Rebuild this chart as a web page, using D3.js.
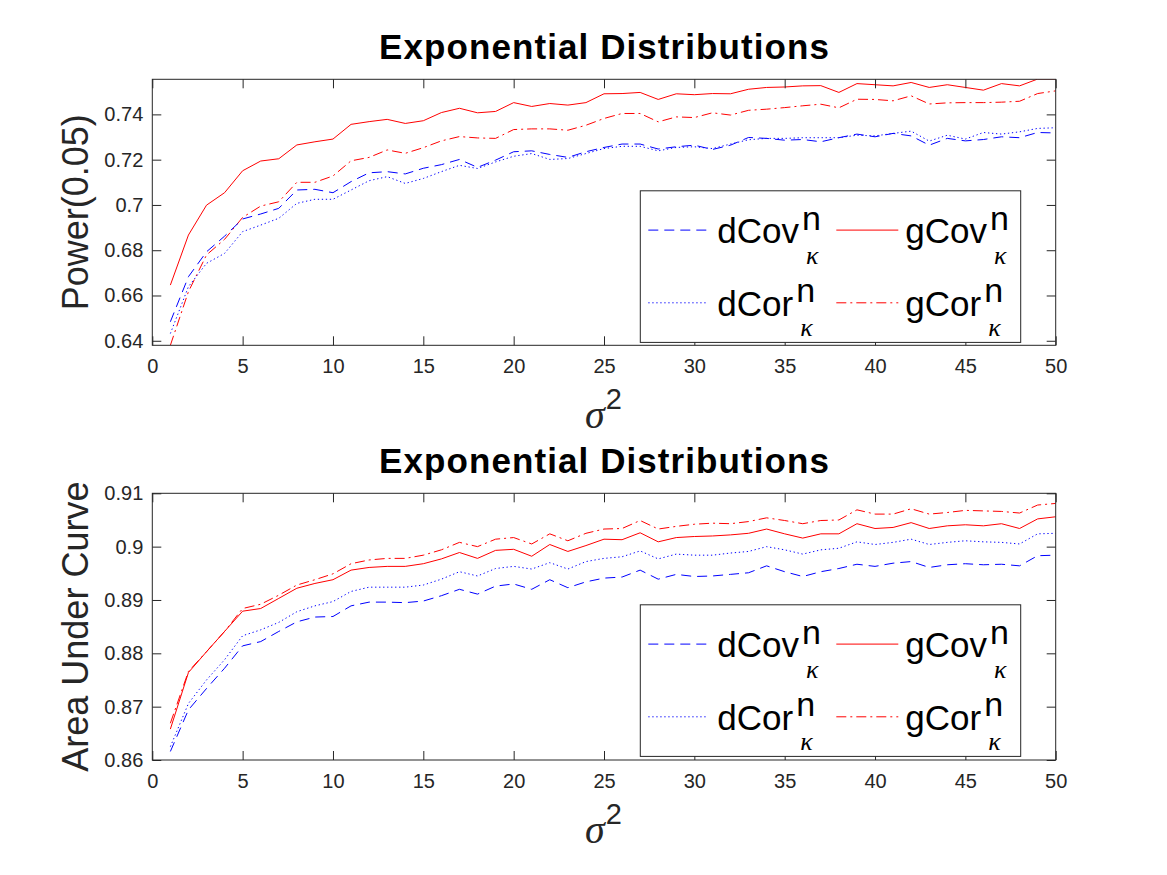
<!DOCTYPE html>
<html>
<head>
<meta charset="utf-8">
<script src="https://cdn.jsdelivr.net/npm/d3@7"></script>
<style>
  html, body { margin: 0; padding: 0; background: #ffffff; }
  svg { display: block; }
</style>
</head>
<body>
<script>
// ---------------- data ----------------
const sigma2 = [1,2,3,4,5,6,7,8,9,10,11,12,13,14,15,16,17,18,19,20,21,22,23,24,25,26,27,28,29,30,31,32,33,34,35,36,37,38,39,40,41,42,43,44,45,46,47,48,49,50];

const xTicks = [0,5,10,15,20,25,30,35,40,45,50];
const xTickLabels = ["0","5","10","15","20","25","30","35","40","45","50"];

const seriesNames = ["dCov","dCor","gCov","gCor"];

// Panel 1: Power(0.05)
const powerYDomain = [0.638, 0.7555];
const powerTicks = [0.64,0.66,0.68,0.70,0.72,0.74];
const powerTickLabels = ["0.64","0.66","0.68","0.7","0.72","0.74"];
const dCovPower = [0.6484,0.6683,0.6793,0.6862,0.6938,0.6960,0.6985,0.7066,0.7069,0.7054,0.7103,0.7142,0.7147,0.7137,0.7162,0.7178,0.7201,0.7166,0.7198,0.7235,0.7239,0.7223,0.7210,0.7235,0.7254,0.7269,0.7269,0.7247,0.7257,0.7264,0.7245,0.7264,0.7298,0.7294,0.7286,0.7289,0.7279,0.7297,0.7313,0.7301,0.7316,0.7305,0.7264,0.7294,0.7283,0.7289,0.7301,0.7297,0.7320,0.7318];
const dCorPower = [0.6432,0.6639,0.6742,0.6786,0.6882,0.6911,0.6941,0.7007,0.7025,0.7025,0.7066,0.7107,0.7125,0.7095,0.7117,0.7147,0.7175,0.7161,0.7190,0.7215,0.7227,0.7201,0.7205,0.7227,0.7249,0.7259,0.7259,0.7239,0.7254,0.7257,0.7249,0.7269,0.7288,0.7294,0.7294,0.7297,0.7297,0.7297,0.7308,0.7305,0.7316,0.7326,0.7282,0.7308,0.7291,0.7320,0.7313,0.7323,0.7338,0.7341];
const gCovPower = [0.6646,0.6867,0.6999,0.7054,0.7151,0.7194,0.7204,0.7265,0.7279,0.7291,0.7356,0.7368,0.7378,0.7360,0.7372,0.7408,0.7427,0.7407,0.7413,0.7452,0.7435,0.7448,0.7441,0.7452,0.7491,0.7492,0.7497,0.7466,0.7491,0.7487,0.7492,0.7491,0.7511,0.7519,0.7521,0.7526,0.7527,0.7497,0.7536,0.7531,0.7526,0.7541,0.7519,0.7531,0.7519,0.7507,0.7536,0.7526,0.7556,0.7556];
const gCorPower = [0.6380,0.6617,0.6779,0.6848,0.6945,0.6995,0.7014,0.7100,0.7100,0.7128,0.7195,0.7210,0.7243,0.7228,0.7253,0.7283,0.7302,0.7296,0.7294,0.7333,0.7336,0.7336,0.7330,0.7352,0.7382,0.7404,0.7404,0.7367,0.7389,0.7386,0.7407,0.7397,0.7418,0.7423,0.7430,0.7438,0.7445,0.7429,0.7467,0.7466,0.7460,0.7482,0.7446,0.7451,0.7452,0.7452,0.7454,0.7458,0.7492,0.7504];

// Panel 2: Area Under Curve
const aucYDomain = [0.86, 0.91];
const aucTicks = [0.86,0.87,0.88,0.89,0.90,0.91];
const aucTickLabels = ["0.86","0.87","0.88","0.89","0.9","0.91"];
const dCovAuc = [0.8616,0.8694,0.8734,0.8772,0.8814,0.8822,0.8841,0.8859,0.8868,0.8869,0.8889,0.8896,0.8896,0.8895,0.8898,0.8908,0.8920,0.8911,0.8926,0.8930,0.8920,0.8938,0.8923,0.8934,0.8941,0.8943,0.8956,0.8939,0.8948,0.8944,0.8945,0.8948,0.8951,0.8964,0.8953,0.8944,0.8953,0.8959,0.8967,0.8963,0.8969,0.8972,0.8961,0.8966,0.8968,0.8966,0.8967,0.8964,0.8983,0.8984];
const dCorAuc = [0.8625,0.8706,0.8750,0.8788,0.8833,0.8844,0.8858,0.8878,0.8889,0.8897,0.8916,0.8924,0.8924,0.8924,0.8928,0.8939,0.8953,0.8945,0.8959,0.8963,0.8958,0.8970,0.8958,0.8972,0.8978,0.8981,0.8992,0.8977,0.8986,0.8984,0.8984,0.8988,0.8991,0.9000,0.8994,0.8986,0.8994,0.8997,0.9009,0.9004,0.9008,0.9014,0.9004,0.9008,0.9011,0.9009,0.9008,0.9005,0.9024,0.9025];
const gCovAuc = [0.8658,0.8764,0.8803,0.8841,0.8879,0.8884,0.8903,0.8922,0.8931,0.8938,0.8956,0.8961,0.8963,0.8963,0.8968,0.8977,0.8989,0.8978,0.8993,0.8995,0.8982,0.9004,0.8991,0.9002,0.9014,0.9013,0.9026,0.9009,0.9017,0.9019,0.9020,0.9022,0.9025,0.9033,0.9024,0.9016,0.9024,0.9024,0.9043,0.9034,0.9036,0.9045,0.9034,0.9039,0.9041,0.9039,0.9043,0.9034,0.9052,0.9056];
const gCorAuc = [0.8669,0.8766,0.8803,0.8841,0.8884,0.8892,0.8909,0.8928,0.8938,0.8949,0.8968,0.8975,0.8978,0.8978,0.8984,0.8994,0.9008,0.9000,0.9014,0.9017,0.9005,0.9024,0.9011,0.9025,0.9033,0.9034,0.9049,0.9033,0.9038,0.9042,0.9044,0.9043,0.9047,0.9054,0.9049,0.9043,0.9049,0.9050,0.9069,0.9061,0.9061,0.9071,0.9061,0.9064,0.9068,0.9067,0.9066,0.9063,0.9078,0.9081];

const titleText = "Exponential Distributions";
const powerLabel = "Power(0.05)";
const aucLabel = "Area Under Curve";

// ---------------- styles ----------------
const styles = {
  dCov: { color: "#0000ff", dash: "10,6" },
  dCor: { color: "#0000ff", dash: "1.3,2.7" },
  gCov: { color: "#ff0000", dash: null },
  gCor: { color: "#ff0000", dash: "10,4,2,4" }
};
const axisColor = "#262626";
const sans = "'Liberation Sans', Arial, Helvetica, sans-serif";
const serif = "'Liberation Serif', 'DejaVu Serif', serif";

const panels = [
  { ylabel: powerLabel, yDomain: powerYDomain, yTicks: powerTicks, yTickLabels: powerTickLabels,
    top: 79.3, bottom: 345.3,
    data: { dCov: dCovPower, dCor: dCorPower, gCov: gCovPower, gCor: gCorPower } },
  { ylabel: aucLabel, yDomain: aucYDomain, yTicks: aucTicks, yTickLabels: aucTickLabels,
    top: 493.3, bottom: 760,
    data: { dCov: dCovAuc, dCor: dCorAuc, gCov: gCovAuc, gCor: gCorAuc } }
];

const W = 1167, H = 875;
const left = 152.3, right = 1055.7;

const svg = d3.select("body").append("svg").attr("width", W).attr("height", H);
svg.append("rect").attr("width", W).attr("height", H).attr("fill", "#ffffff");

panels.forEach((p, pi) => {
  const g = svg.append("g");
  const x = d3.scaleLinear().domain([0, 50]).range([left, right]);
  const y = d3.scaleLinear().domain(p.yDomain).range([p.bottom, p.top]);

  const clipId = "clip" + pi;
  svg.append("clipPath").attr("id", clipId).append("rect")
    .attr("x", left).attr("y", p.top).attr("width", right - left).attr("height", p.bottom - p.top);

  // lines
  const line = d3.line().x((d, i) => x(sigma2[i])).y(d => y(d));
  const lg = g.append("g").attr("clip-path", `url(#${clipId})`);
  ["gCov", "gCor", "dCov", "dCor"].forEach(name => {
    const st = styles[name];
    lg.append("path").datum(p.data[name])
      .attr("d", line)
      .attr("fill", "none")
      .attr("stroke", st.color)
      .attr("stroke-width", 1)
      .attr("stroke-dasharray", st.dash)
      .attr("stroke-linejoin", "round");
  });

  // axes
  const ax = g.append("g").attr("color", axisColor);
  const bottomAxis = d3.axisBottom(x).tickValues(xTicks)
    .tickFormat((d, i) => xTickLabels[i]).tickSizeInner(-9).tickSizeOuter(0).tickPadding(13.5);
  const bA = ax.append("g").attr("transform", `translate(0,${p.bottom})`).call(bottomAxis);
  const topAxis = d3.axisTop(x).tickValues(xTicks).tickFormat("").tickSizeInner(-9).tickSizeOuter(0);
  const tA = ax.append("g").attr("transform", `translate(0,${p.top})`).call(topAxis);
  const leftAxis = d3.axisLeft(y).tickValues(p.yTicks)
    .tickFormat((d, i) => p.yTickLabels[i]).tickSizeInner(-9).tickSizeOuter(0).tickPadding(9);
  const lA = ax.append("g").attr("transform", `translate(${left},0)`).call(leftAxis);
  const rightAxis = d3.axisRight(y).tickValues(p.yTicks).tickFormat("").tickSizeInner(-9).tickSizeOuter(0);
  const rA = ax.append("g").attr("transform", `translate(${right},0)`).call(rightAxis);
  [bA, tA, lA, rA].forEach(a => {
    a.select(".domain").remove();
    a.selectAll("text").attr("font-family", sans).attr("font-size", 20).attr("fill", axisColor);
  });
  ax.append("rect").attr("x", left).attr("y", p.top)
    .attr("width", right - left).attr("height", p.bottom - p.top)
    .attr("fill", "none").attr("stroke", axisColor).attr("stroke-width", 1);

  // title
  g.append("text").attr("x", 604).attr("y", p.top - 20)
    .attr("text-anchor", "middle").attr("font-family", sans)
    .attr("font-weight", "bold").attr("font-size", 35)
    .attr("textLength", 450).attr("lengthAdjust", "spacing")
    .attr("fill", "#000").text(titleText);

  // y label
  g.append("text")
    .attr("transform", `translate(88,${(p.top + p.bottom) / 2}) rotate(-90)`)
    .attr("text-anchor", "middle").attr("font-family", sans).attr("font-size", 36)
    .attr("fill", axisColor).text(p.ylabel);

  // x label sigma^2 (one text element with a superscript tspan)
  const xl = g.append("text").attr("x", 585).attr("y", p.bottom + 83)
    .attr("fill", axisColor);
  xl.append("tspan").attr("font-family", serif).attr("font-style", "italic")
    .attr("font-size", 40).text("σ");
  xl.append("tspan").attr("font-family", sans).attr("font-size", 29)
    .attr("dx", 1).attr("dy", -19).text("2");

  // legend
  const bx = 640.3, by = p.top + 111.5, bw = 380.4, bh = 151.6;
  const leg = g.append("g");
  leg.append("rect").attr("x", bx).attr("y", by).attr("width", bw).attr("height", bh)
    .attr("fill", "#ffffff").attr("stroke", axisColor).attr("stroke-width", 1);
  const entries = [
    { name: "dCov", col: 0, row: 0 }, { name: "gCov", col: 1, row: 0 },
    { name: "dCor", col: 0, row: 1 }, { name: "gCor", col: 1, row: 1 }
  ];
  entries.forEach(e => {
    const st = styles[e.name];
    const lx0 = bx + (e.col === 0 ? 8 : 196);
    const lx1 = bx + (e.col === 0 ? 68 : 258);
    const ly = by + (e.row === 0 ? 39.3 : 112);
    leg.append("line").attr("x1", lx0).attr("x2", lx1).attr("y1", ly).attr("y2", ly)
      .attr("stroke", st.color).attr("stroke-width", 1).attr("stroke-dasharray", st.dash);
    const tx = bx + (e.col === 0 ? 77 : 265);
    const t = leg.append("text").attr("x", tx).attr("y", ly + 13)
      .attr("font-family", sans).attr("font-size", 35).attr("fill", "#000");
    t.append("tspan").text(e.name);
    const nSpan = t.append("tspan").attr("dx", 3).attr("dy", -13.5).attr("font-size", 34).text("n");
    const nW = nSpan.node().getComputedTextLength();
    t.append("tspan").attr("dx", -nW + 4).attr("dy", 34)
      .attr("font-family", serif).attr("font-style", "italic").attr("font-size", 26)
      .text("κ");
  });
});
</script>
</body>
</html>
